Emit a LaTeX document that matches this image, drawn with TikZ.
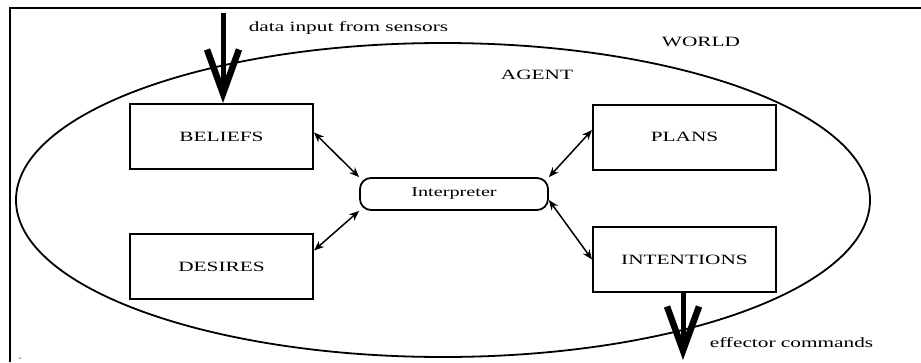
\documentclass[tikz,border=0pt]{standalone}
\usepackage{fontspec}
\setmainfont{Liberation Serif}[FakeStretch=1.5]
\usetikzlibrary{arrows.meta,calc}
\begin{document}
\begin{tikzpicture}[x=1pt,y=-1pt,
  txt/.style={font=\fontsize{14.2}{16}\selectfont, inner sep=0pt},
  box/.style={draw, line width=2pt, minimum width=183pt, minimum height=65pt, inner sep=0pt, font=\fontsize{14.2}{16}\selectfont},
  interp/.style={draw, line width=1.8pt, rounded corners=11pt, minimum width=188pt, minimum height=32pt, inner sep=0pt, font=\fontsize{13.5}{16}\selectfont},
  link/.style={line width=1.5pt, {Stealth[length=10pt,width=8pt]}-{Stealth[length=10pt,width=8pt]}},
  heavy/.style={line width=5pt, -{Straight Barb[length=44pt,width=32pt,line width=6.5pt]}}
]
\useasboundingbox (0,0) rectangle (921,362);
% frame (top and left edges visible)
\draw[line width=2.5pt] (10,362) -- (10,8) -- (921,8);
% agent ellipse
\draw[line width=1.8pt] (443,200) ellipse [x radius=427, y radius=157];
% boxes
\node[box] (bel) at (221.5,136.5) {BELIEFS};
\node[box] (des) at (221.5,266.5) {DESIRES};
\node[box] (pl) at (684.5,137) {PLANS};
\node[box] (in) at (684.5,259.5) {INTENTIONS};
\node[interp] (int) at (454,194) {Interpreter};
% labels
\node[txt] (world) at (701,42) {WORLD};
\node[txt] (agent) at (537,75) {AGENT};
\node[txt] (dlab) at (348.5,28) {data input from sensors};
\node[txt] (elab) at (791.5,343) {effector commands};
% links
\draw[link] ([yshift=4pt]bel.east) -- (int.north west);
\draw[link] ([yshift=16pt]des.east) -- (int.south west);
\draw[link] ([yshift=7pt]pl.west) -- (int.north east);
\draw[link] ([yshift=-6pt]int.east) -- (in.west);
% heavy arrows
\coordinate (din) at (223,13);
\draw[heavy] (din) -- (din |- bel.north);
\coordinate (eff) at (683,360);
\draw[heavy] (in.south -| eff) -- (eff);
% stray dot
\fill[gray] (20,358) circle (1pt);
\end{tikzpicture}
\end{document}
